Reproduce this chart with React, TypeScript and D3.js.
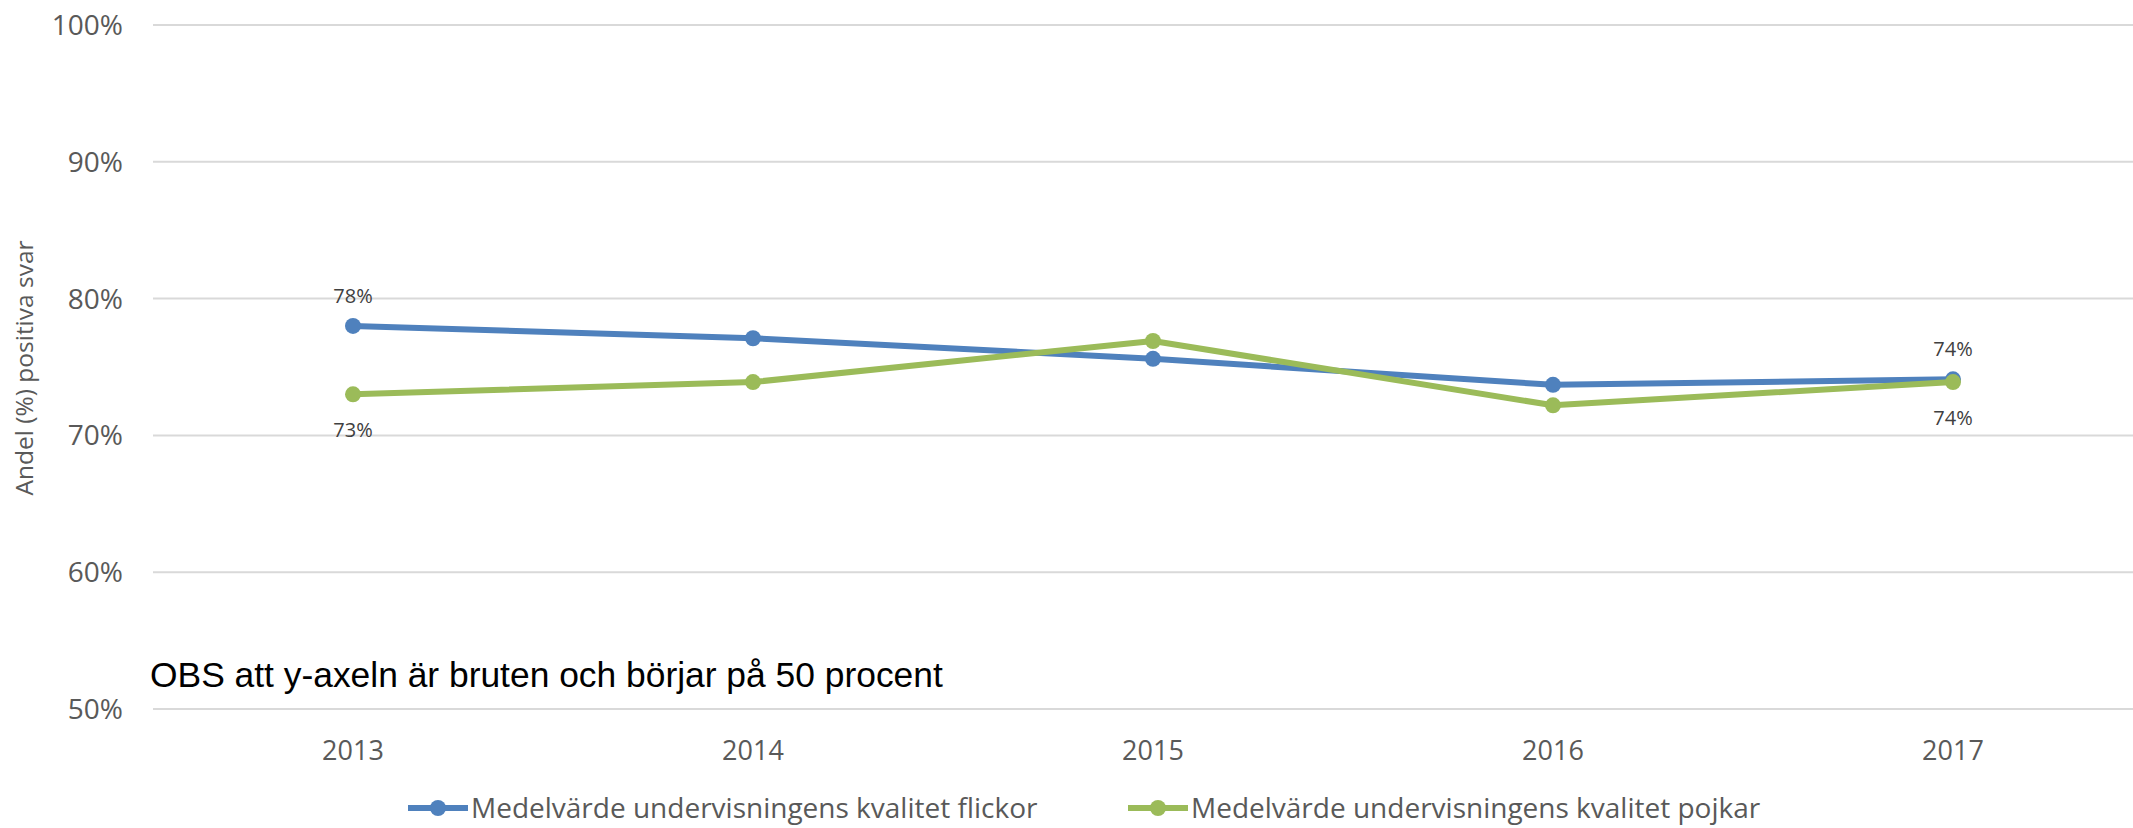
import React from "react";
import * as d3 from "d3";

const years = ["2013", "2014", "2015", "2016", "2017"];
const flickor = [78.0, 77.1, 75.6, 73.7, 74.1];
const pojkar = [73.0, 73.9, 76.9, 72.2, 73.9];
const yTicks = [50, 60, 70, 80, 90, 100];
const seriesNames = [
  "Medelvärde undervisningens kvalitet flickor",
  "Medelvärde undervisningens kvalitet pojkar",
];
const colors = ["#4F81BD", "#9BBB59"];
const labeledYears = ["2013", "2017"];
const note = "OBS att y-axeln är bruten och börjar på 50 procent";
const axisTitle = "Andel (%) positiva svar";

const W = 2133;
const H = 828;
const FONT = "'Open Sans', sans-serif";

export default function App() {
  const x = d3.scaleBand<string>().domain(years).range([153, 2153]);
  const y = d3.scaleLinear().domain([50, 100]).range([709, 25]);
  const cx = (yr: string) => (x(yr) as number) + x.bandwidth() / 2;
  const line = d3
    .line<number>()
    .x((_, i) => cx(years[i]))
    .y((d) => y(d));
  const series = [flickor, pojkar];
  const labels: { x: number; y: number; text: string }[] = [];
  labeledYears.forEach((yr) => {
    const i = years.indexOf(yr);
    const a = flickor[i];
    const b = pojkar[i];
    const hi = Math.max(a, b);
    const lo = Math.min(a, b);
    labels.push({ x: cx(yr), y: y(hi) - 23, text: `${Math.round(hi)}%` });
    labels.push({ x: cx(yr), y: y(lo) + 43, text: `${Math.round(lo)}%` });
  });
  const legendItems = [
    { x0: 408, color: colors[0], name: seriesNames[0] },
    { x0: 1128, color: colors[1], name: seriesNames[1] },
  ];
  const legendY = 808;
  return (
    <svg
      width={W}
      height={H}
      style={{ position: "absolute", left: 0, top: 0, background: "#fff" }}
      fontFamily={FONT}
    >
      {yTicks.map((t) => (
        <g key={t}>
          <line x1={153} x2={W} y1={y(t)} y2={y(t)} stroke="#d9d9d9" strokeWidth={2} />
          <text x={123} y={y(t)} dy="0.36em" textAnchor="end" fontSize={28} fill="#595959">
            {t}%
          </text>
        </g>
      ))}
      {years.map((yr) => (
        <text key={yr} x={cx(yr)} y={760} textAnchor="middle" fontSize={27} fill="#595959">
          {yr}
        </text>
      ))}
      <text
        transform={`translate(33,368) rotate(-90)`}
        textAnchor="middle"
        fontSize={24.5}
        fill="#595959"
      >
        {axisTitle}
      </text>
      {series.map((s, k) => (
        <g key={k}>
          <path d={line(s) || ""} fill="none" stroke={colors[k]} strokeWidth={6} strokeLinejoin="round" />
          {s.map((v, i) => (
            <circle key={i} cx={cx(years[i])} cy={y(v)} r={8} fill={colors[k]} />
          ))}
        </g>
      ))}
      {labels.map((l, i) => (
        <text key={i} x={l.x} y={l.y} textAnchor="middle" fontSize={20} fill="#404040">
          {l.text}
        </text>
      ))}
      <text x={150} y={687} fontFamily="'Liberation Sans', Arial, sans-serif" fontSize={35.4} fill="#000">
        {note}
      </text>
      {legendItems.map((it, i) => (
        <g key={i}>
          <line x1={it.x0} x2={it.x0 + 60} y1={legendY} y2={legendY} stroke={it.color} strokeWidth={6} />
          <circle cx={it.x0 + 30} cy={legendY} r={8} fill={it.color} />
          <text x={it.x0 + 63} y={legendY} dy="0.36em" fontSize={28} fill="#595959">
            {it.name}
          </text>
        </g>
      ))}
    </svg>
  );
}
